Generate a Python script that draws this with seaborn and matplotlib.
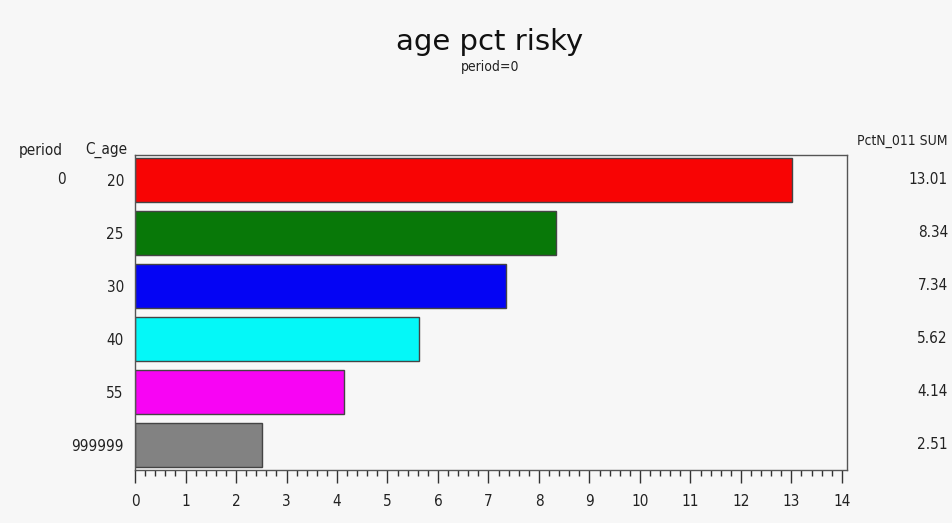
import numpy as np
import pandas as pd
import matplotlib.pyplot as plt
import seaborn as sns
from matplotlib.ticker import MultipleLocator

# values
ages = ["20", "25", "30", "40", "55", "999999"]
pct_risky = [13.01, 8.34, 7.34, 5.62, 4.14, 2.51]
bar_colors = ["#f80404", "#087808", "#0404f4", "#04f8f8", "#f804f4", "#828282"]
period = "0"

df = pd.DataFrame({"C_age": ages, "pct": pct_risky})

sns.set_style("white")
plt.rcParams["font.family"] = ["DejaVu Sans"]
plt.rcParams["font.stretch"] = "condensed"
plt.rcParams["text.color"] = "#222222"

fig = plt.figure(figsize=(9.53, 5.23), dpi=100)
fig.patch.set_facecolor("#f7f7f7")
ax = fig.add_axes([0.1417, 0.1013, 0.747, 0.6023])
ax.set_facecolor("#f7f7f7")

sns.barplot(data=df, y="C_age", x="pct", hue="C_age", palette=bar_colors,
            saturation=1, orient="h", width=0.83, edgecolor="#444444",
            linewidth=1.0, legend=False, ax=ax)

ax.set_xlim(0, 14.1)
ax.set_ylim(5.48, -0.47)
ax.xaxis.set_major_locator(MultipleLocator(1))
ax.xaxis.set_minor_locator(MultipleLocator(0.2))
ax.tick_params(axis="x", which="major", direction="out", length=9, width=1,
               color="#333333", labelsize=11, pad=8, bottom=True, labelcolor="#222222")
ax.tick_params(axis="x", which="minor", direction="out", length=4, width=1,
               color="#333333", bottom=True)
ax.tick_params(axis="y", length=0, labelsize=11, pad=8, labelcolor="#222222")
ax.set_xlabel("")
ax.set_ylabel("")
for s in ax.spines.values():
    s.set_color("#555555")
    s.set_linewidth(1.0)

# left column headers
fig.text(41 / 953, 1 - 150 / 523, "period", ha="center", va="center", fontsize=11)
fig.text(127 / 953, 1 - 150 / 523, "C_age", ha="right", va="center", fontsize=11)
ax.annotate(period, xy=(61 / 953, 0), xycoords=("figure fraction", "data"),
            ha="center", va="center", fontsize=11)

# right column of sums
fig.text(948 / 953, 1 - 141 / 523, "PctN_011 SUM", ha="right", va="center", fontsize=10)
for i, v in enumerate(pct_risky):
    ax.annotate(f"{v:.2f}", xy=(948 / 953, i), xycoords=("figure fraction", "data"),
                ha="right", va="center", fontsize=11, annotation_clip=False)

# titles
fig.text(490 / 953, 1 - 42 / 523, "age pct risky", ha="center", va="center",
         fontsize=21, fontstretch="normal", color="#111111")
fig.text(490 / 953, 1 - 67 / 523, "period=0", ha="center", va="center", fontsize=10)

plt.savefig("out.png", dpi=100, facecolor=fig.get_facecolor())
